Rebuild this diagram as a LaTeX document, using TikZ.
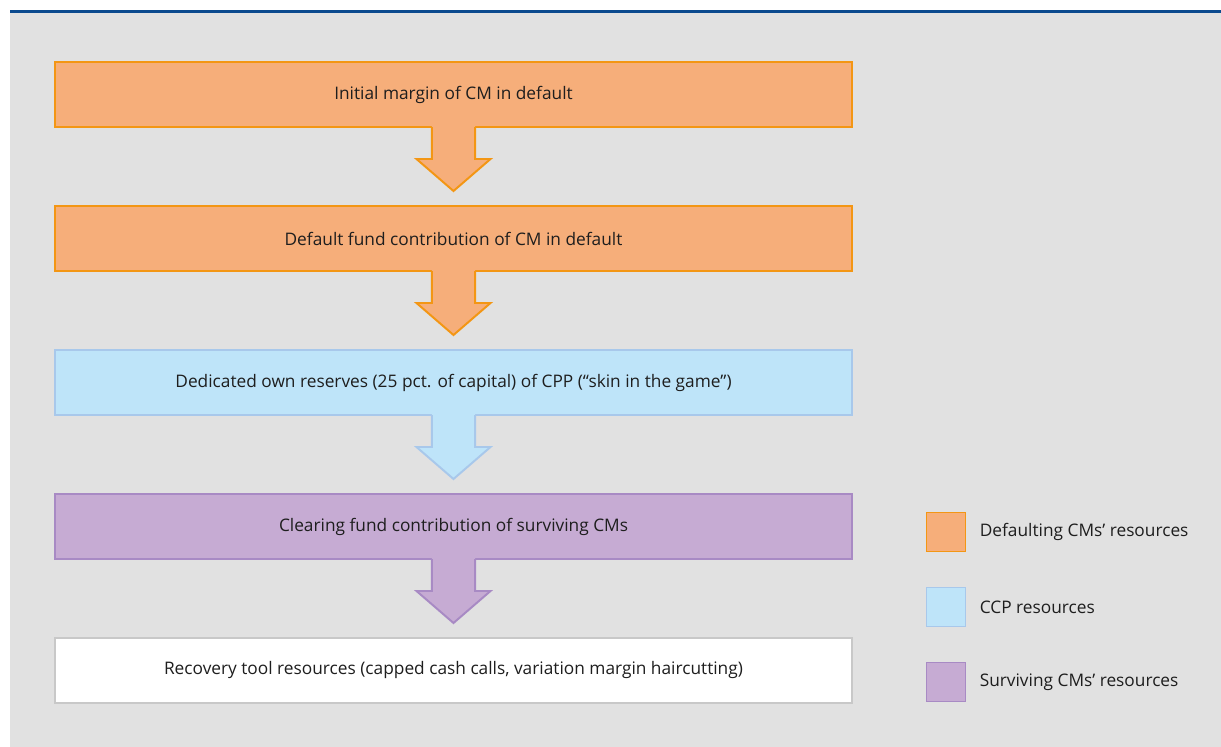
\documentclass[tikz,border=0pt]{standalone}
\usepackage{fontspec}
\setmainfont{Open Sans}
\usepackage{xcolor}
\usepackage{tikz}
\usetikzlibrary{positioning, calc}
\definecolor{pagebg}{RGB}{225,225,225}
\definecolor{rulecol}{RGB}{11,74,142}
\definecolor{dfill}{RGB}{246,174,122}
\definecolor{dline}{RGB}{243,150,20}
\definecolor{cfill}{RGB}{190,228,249}
\definecolor{cline}{RGB}{168,200,235}
\definecolor{sfill}{RGB}{198,171,211}
\definecolor{sline}{RGB}{168,138,196}
\definecolor{rline}{RGB}{200,200,200}
\definecolor{txt}{RGB}{30,30,30}
% down arrow hanging under a box: #1 box name, #2 fill, #3 line
\newcommand{\flowarrow}[3]{%
  \fill[#2] ($(#1.south)+(-0.54,0.05)$) -- ++(0,-0.85) -- ++(-0.385,0)
    -- ($(#1.south)+(0,-1.6)$) -- ($(#1.south)+(0.925,-0.8)$) -- ++(-0.385,0)
    -- ($(#1.south)+(0.54,0.05)$) -- cycle;
  \draw[#3, line width=1.4pt, line join=miter] ($(#1.south)+(-0.54,0)$) -- ++(0,-0.8) -- ++(-0.385,0)
    -- ($(#1.south)+(0,-1.6)$) -- ($(#1.south)+(0.925,-0.8)$) -- ++(-0.385,0)
    -- ($(#1.south)+(0.54,0)$);}

\begin{document}
\begin{tikzpicture}[
  font=\fontsize{12.3}{14}\selectfont,
  text=txt,
  node distance=1.975cm,
  box/.style={draw, line width=1.4pt, align=center, minimum width=19.925cm,
              minimum height=1.625cm, outer sep=0pt, inner sep=0pt},
  dbox/.style={box, fill=dfill, draw=dline},
  cbox/.style={box, fill=cfill, draw=cline},
  sbox/.style={box, fill=sfill, draw=sline},
  rbox/.style={box, fill=white, draw=rline},
  key/.style={draw, line width=1.4pt, minimum size=0.975cm, inner sep=0pt, outer sep=0pt},
  keytext/.style={right=0.35cm of #1, inner sep=0pt, anchor=west}
]
\useasboundingbox (0,0) rectangle (30.525,-18.675);
\fill[pagebg] (0.25,-0.3) rectangle (30.525,-18.675);
\draw[rulecol, line width=1.6pt] (0.25,-0.29) -- (30.525,-0.29);

% ---- waterfall, top -> bottom ----
\node[dbox] (im) at (11.3375,-2.3625) {Initial margin of CM in default};
\node[dbox, below=of im] (dfc) {Default fund contribution of CM in default};
\node[cbox, below=of dfc] (skin) {Dedicated own reserves (25 pct. of capital) of CPP (``skin in the game'')};
\node[sbox, below=of skin] (cfc) {Clearing fund contribution of surviving CMs};
\node[rbox, below=of cfc] (rec) {Recovery tool resources (capped cash calls, variation margin haircutting)};

% ---- arrows between the layers ----
\flowarrow{im}{dfill}{dline}
\flowarrow{dfc}{dfill}{dline}
\flowarrow{skin}{cfill}{cline}
\flowarrow{cfc}{sfill}{sline}

% ---- legend ----
\node[key, fill=dfill, draw=dline] (kd) at (23.65,-13.3) {};
\node[key, fill=cfill, draw=cline, below=0.9cm of kd] (kc) {};
\node[key, fill=sfill, draw=sline, below=0.9cm of kc] (ks) {};
\node[keytext=kd] {Defaulting CMs’ resources};
\node[keytext=kc] {CCP resources};
\node[keytext=ks] {Surviving CMs’ resources};

\end{tikzpicture}
\end{document}
